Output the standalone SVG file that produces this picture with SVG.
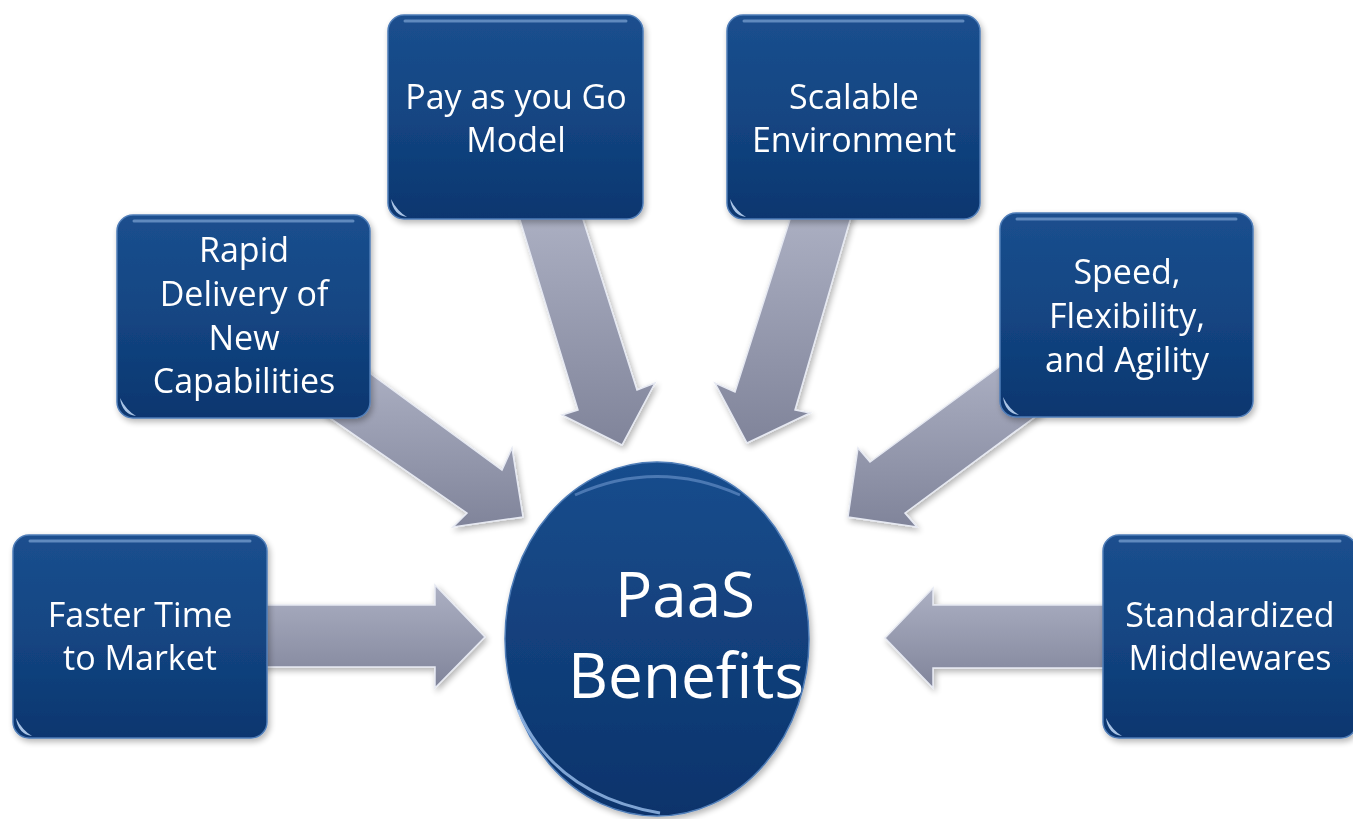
<svg xmlns="http://www.w3.org/2000/svg" width="1353" height="819" viewBox="0 0 1353 819">
  <defs>
    <linearGradient id="boxG" x1="0" y1="0" x2="0" y2="1">
      <stop offset="0" stop-color="#1b4f8e"/>
      <stop offset="0.5" stop-color="#134582"/>
      <stop offset="1" stop-color="#0c366f"/>
    </linearGradient>
    <linearGradient id="circG" x1="0" y1="0" x2="0" y2="1">
      <stop offset="0" stop-color="#194d8d"/>
      <stop offset="1" stop-color="#0b336b"/>
    </linearGradient>
    <linearGradient id="arrG" x1="0" y1="0" x2="0" y2="1">
      <stop offset="0" stop-color="#acb0c3"/>
      <stop offset="1" stop-color="#80849a"/>
    </linearGradient>
    <filter id="sh" x="-10%" y="-10%" width="125%" height="125%">
      <feGaussianBlur in="SourceAlpha" stdDeviation="3"/>
      <feOffset dx="2" dy="3" result="b"/>
      <feComponentTransfer><feFuncA type="linear" slope="0.3"/></feComponentTransfer>
      <feMerge><feMergeNode/><feMergeNode in="SourceGraphic"/></feMerge>
    </filter>
  </defs>
  <style>
    .box { fill: url(#boxG); stroke: #4f7db8; stroke-width: 1.5; }
    .hi { fill: none; stroke: #8fb2e0; stroke-width: 3; stroke-linecap: round; opacity: 0.6; }
    .glint { fill: #b9d3f2; opacity: 0.9; }
    .arr { fill: url(#arrG); stroke: #e6e9f2; stroke-width: 1.5; stroke-linejoin: miter; }
    .lbl { font-family: "Open Sans", "Noto Sans", "Liberation Sans", sans-serif; font-size: 34px; fill: #ffffff; text-anchor: middle; }
    .big { font-family: "Open Sans", "Noto Sans", "Liberation Sans", sans-serif; font-size: 62px; fill: #ffffff; text-anchor: middle; }
  </style>
  <rect width="1353" height="819" fill="#ffffff"/>

  <g id="connectors" filter="url(#sh)">
    <polygon class="arr" points="255,605 435,605 435,585 485,637 435,688 435,667 255,667"/>
    <polygon class="arr" points="1115,605 933,605 933,588 885,638 933,688 933,668 1115,668"/>
    <polygon class="arr" points="360,366 502,470 512,448 523,517 453,527 467,513 323,413"/>
    <polygon class="arr" points="517,210 578,410 562,415 622,445 655,383 637,390 580,210"/>
    <polygon class="arr" points="793,210 735,392 715,383 747,443 810,413 795,410 853,210"/>
    <polygon class="arr" points="1010,359 870,462 858,448 848,517 917,527 905,513 1043,411"/>
  </g>

  <g id="center" filter="url(#sh)">
    <ellipse cx="657" cy="639" rx="152" ry="177" fill="url(#circG)" stroke="#4f7db8" stroke-width="1.5"/>
    <path d="M 575 495 Q 657 458 740 495" fill="none" stroke="#7ea6dc" stroke-width="3" opacity="0.5"/>
    <path d="M 518 710 Q 555 795 660 813" fill="none" stroke="#9cc0ee" stroke-width="3" opacity="0.8"/>
    <text class="big" x="685" y="617">PaaS</text>
    <text class="big" x="686" y="698">Benefits</text>
  </g>

  <g id="n-faster" filter="url(#sh)">
    <rect class="box" x="13" y="535" width="254" height="203" rx="16"/>
    <path class="hi" d="M 30 541 L 250 541"/>
    <path class="glint" d="M 16 718 Q 18 734 32 736 Q 22 730 16 718 Z"/>
    <text class="lbl" x="140" y="627">Faster Time</text>
    <text class="lbl" x="140" y="670">to Market</text>
  </g>

  <g id="n-rapid" filter="url(#sh)">
    <rect class="box" x="117" y="215" width="253" height="203" rx="16"/>
    <path class="hi" d="M 134 221 L 353 221"/>
    <path class="glint" d="M 120 398 Q 122 414 136 416 Q 126 410 120 398 Z"/>
    <text class="lbl" x="244" y="262">Rapid</text>
    <text class="lbl" x="244" y="306">Delivery of</text>
    <text class="lbl" x="244" y="350">New</text>
    <text class="lbl" x="244" y="393">Capabilities</text>
  </g>

  <g id="n-pay" filter="url(#sh)">
    <rect class="box" x="388" y="15" width="255" height="204" rx="16"/>
    <path class="hi" d="M 405 21 L 626 21"/>
    <path class="glint" d="M 391 199 Q 393 215 407 217 Q 397 211 391 199 Z"/>
    <text class="lbl" x="516" y="109">Pay as you Go</text>
    <text class="lbl" x="516" y="152">Model</text>
  </g>

  <g id="n-scalable" filter="url(#sh)">
    <rect class="box" x="727" y="15" width="253" height="204" rx="16"/>
    <path class="hi" d="M 744 21 L 963 21"/>
    <path class="glint" d="M 730 199 Q 732 215 746 217 Q 736 211 730 199 Z"/>
    <text class="lbl" x="854" y="109">Scalable</text>
    <text class="lbl" x="854" y="152">Environment</text>
  </g>

  <g id="n-speed" filter="url(#sh)">
    <rect class="box" x="1000" y="213" width="253" height="204" rx="16"/>
    <path class="hi" d="M 1017 219 L 1236 219"/>
    <path class="glint" d="M 1003 397 Q 1005 413 1019 415 Q 1009 409 1003 397 Z"/>
    <text class="lbl" x="1127" y="284">Speed,</text>
    <text class="lbl" x="1127" y="328">Flexibility,</text>
    <text class="lbl" x="1127" y="372">and Agility</text>
  </g>

  <g id="n-standard" filter="url(#sh)">
    <rect class="box" x="1103" y="535" width="254" height="203" rx="16"/>
    <path class="hi" d="M 1120 541 L 1340 541"/>
    <path class="glint" d="M 1106 718 Q 1108 734 1122 736 Q 1112 730 1106 718 Z"/>
    <text class="lbl" x="1230" y="627">Standardized</text>
    <text class="lbl" x="1230" y="670">Middlewares</text>
  </g>
</svg>
